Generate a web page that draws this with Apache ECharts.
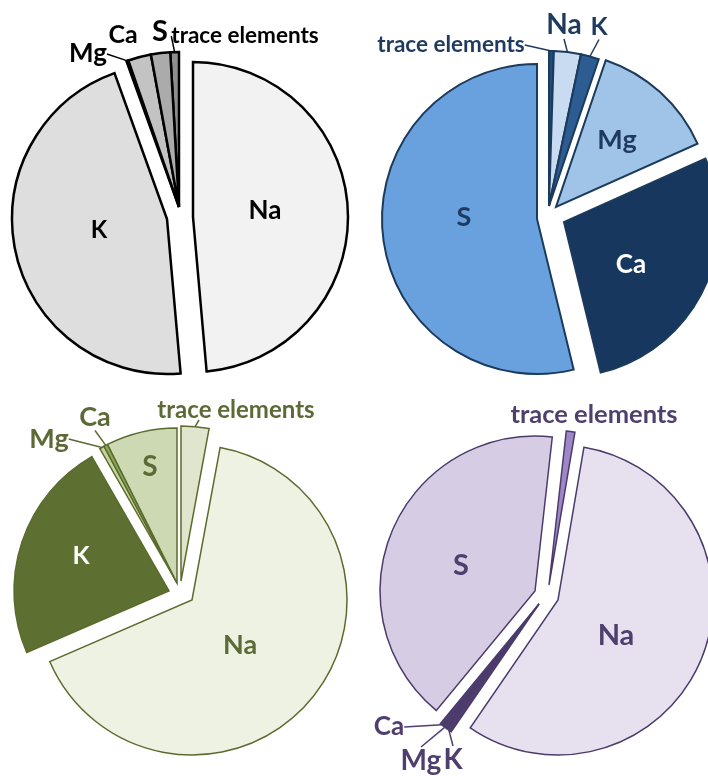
<!DOCTYPE html>
<html><head><meta charset="utf-8">
<script src="https://cdn.jsdelivr.net/npm/echarts@6/dist/echarts.min.js"></script>
<style>html,body{margin:0;padding:0;background:#fff}#c{width:708px;height:776px}</style>
</head><body><div id="c"></div>
<script>
// categories (same slice order in every pie, clockwise)
const elements = ['trace elements', 'Na', 'K', 'Mg', 'Ca', 'S'];
// series values (% share)
const greyValues   = [0.9, 48.6, 45.9, 0.2, 2.4, 2.0];
const blueValues   = [0.5, 2.8, 1.9, 13.1, 27.9, 53.8];
const greenValues  = [2.9, 65.6, 23.2, 0.5, 0.4, 7.4];
const purpleValues = [0.9, 56.9, 0.6, 0.4, 0.4, 40.8];

const FONT = 'Lato, "Open Sans", sans-serif';

// layout / style configuration (no data here)
const pies = [
  { values: greyValues, startAngle: 93.24, radius: 155,
    colors: ['#8e8e8e', '#f2f2f2', '#dedede', '#cfcfcf', '#c3c3c3', '#ababab'],
    border: '#000000', borderWidth: 2.5, text: '#000000',
    groups: [ { items: [1], center: [193, 217] }, { items: [2], center: [167, 219] }, { items: [0, 3, 4, 5], center: [179, 207] } ],
    labels: [ { x: 245, y: 36, size: 22.5, line: true }, { x: 265, y: 211, size: 26 }, { x: 99, y: 230, size: 24 },
              { x: 88, y: 54, size: 26, line: true }, { x: 123, y: 35, size: 25 }, { x: 160, y: 32, size: 29 } ] },
  { values: blueValues, startAngle: 90, radius: 155,
    colors: ['#1f4e79', '#c8dbf1', '#2c5c92', '#a0c4e8', '#17375e', '#68a1de'],
    border: '#1b3a5c', borderWidth: 2, text: '#1f3a5f',
    groups: [ { items: [5], center: [537, 219] }, { items: [0, 1, 2], center: [549, 206] }, { items: [3], center: [556, 207] }, { items: [4], center: [564, 222] } ],
    labels: [ { x: 451, y: 45, size: 22.5, line: true }, { x: 564, y: 25, size: 28, line: true }, { x: 599, y: 27, size: 25, line: true },
              { x: 617, y: 140, size: 27 }, { x: 631, y: 265, size: 26, color: '#ffffff' }, { x: 464, y: 217, size: 27 } ] },
  { values: greenValues, startAngle: 90, radius: 155,
    colors: ['#dfe6cd', '#eef2e3', '#5e6f32', '#c3d59c', '#8ea65a', '#cdd9b3'],
    border: '#5b6b2e', borderWidth: 1.5, text: '#5c6a36',
    groups: [ { items: [0], center: [181, 581] }, { items: [1], center: [192, 600] }, { items: [2], center: [169, 591] }, { items: [3, 4, 5], center: [177, 583] } ],
    labels: [ { x: 236, y: 410, size: 24, line: true, lineEnd: [199, 420] }, { x: 240, y: 645, size: 27 }, { x: 81, y: 556, size: 25, color: '#ffffff' },
              { x: 49, y: 439, size: 27, line: true }, { x: 95, y: 417, size: 27, line: true }, { x: 150, y: 467, size: 28 } ] },
  { values: purpleValues, startAngle: 83.6, radius: 155,
    colors: ['#9d87c4', '#e7e1ef', '#4f3d70', '#4f3d70', '#4f3d70', '#d6cce4'],
    border: '#4a3b6b', borderWidth: 1.5, text: '#4f3f6e',
    groups: [ { items: [5], center: [535, 591] }, { items: [0], center: [549, 585] }, { items: [1], center: [558, 600] }, { items: [2, 3, 4], center: [539, 604] } ],
    labels: [ { x: 594, y: 415, size: 25.5 }, { x: 616, y: 636, size: 29 }, { x: 453, y: 760, size: 28, line: true },
              { x: 421, y: 761, size: 28, line: true }, { x: 389, y: 727, size: 26, line: true }, { x: 461, y: 566, size: 29 } ] }
];

function buildSeries(pie) {
  return pie.groups.map(function (g) {
    return {
      type: 'pie',
      center: g.center,
      radius: pie.radius,
      startAngle: pie.startAngle,
      clockwise: true,
      avoidLabelOverlap: false,
      animation: false,
      silent: true,
      emphasis: { disabled: true },
      data: elements.map(function (name, i) {
        const inGroup = g.items.indexOf(i) >= 0;
        const lab = pie.labels[i];
        return {
          name: name,
          value: pie.values[i],
          itemStyle: inGroup
            ? { color: pie.colors[i], borderColor: pie.border, borderWidth: pie.borderWidth, borderJoin: 'miter' }
            : { color: 'rgba(0,0,0,0)', borderWidth: 0 },
          label: inGroup
            ? { show: true, position: lab.line ? 'outside' : 'inside', formatter: '{b}',
                color: lab.color || pie.text, fontFamily: FONT, fontWeight: 'bold', fontSize: lab.size,
                textBorderWidth: 0, textShadowBlur: 0 }
            : { show: false },
          labelLine: (inGroup && lab.line)
            ? { show: true, length: 0, length2: 0, smooth: false, lineStyle: { color: pie.text, width: 1.5 } }
            : { show: false }
        };
      }),
      labelLayout: function (p) {
        const lab = pie.labels[p.dataIndex];
        const out = { x: lab.x, y: lab.y, align: 'center', verticalAlign: 'middle' };
        if (lab.lineEnd && p.labelLinePoints && p.labelLinePoints.length) {
          const start = p.labelLinePoints[0];
          out.labelLinePoints = [start, lab.lineEnd, lab.lineEnd];
        }
        return out;
      }
    };
  });
}

const chart = echarts.init(document.getElementById('c'), null, { renderer: 'canvas' });
let series = [];
pies.forEach(function (p) { series = series.concat(buildSeries(p)); });
chart.setOption({ animation: false, backgroundColor: '#ffffff', series: series });
</script>
</body></html>
